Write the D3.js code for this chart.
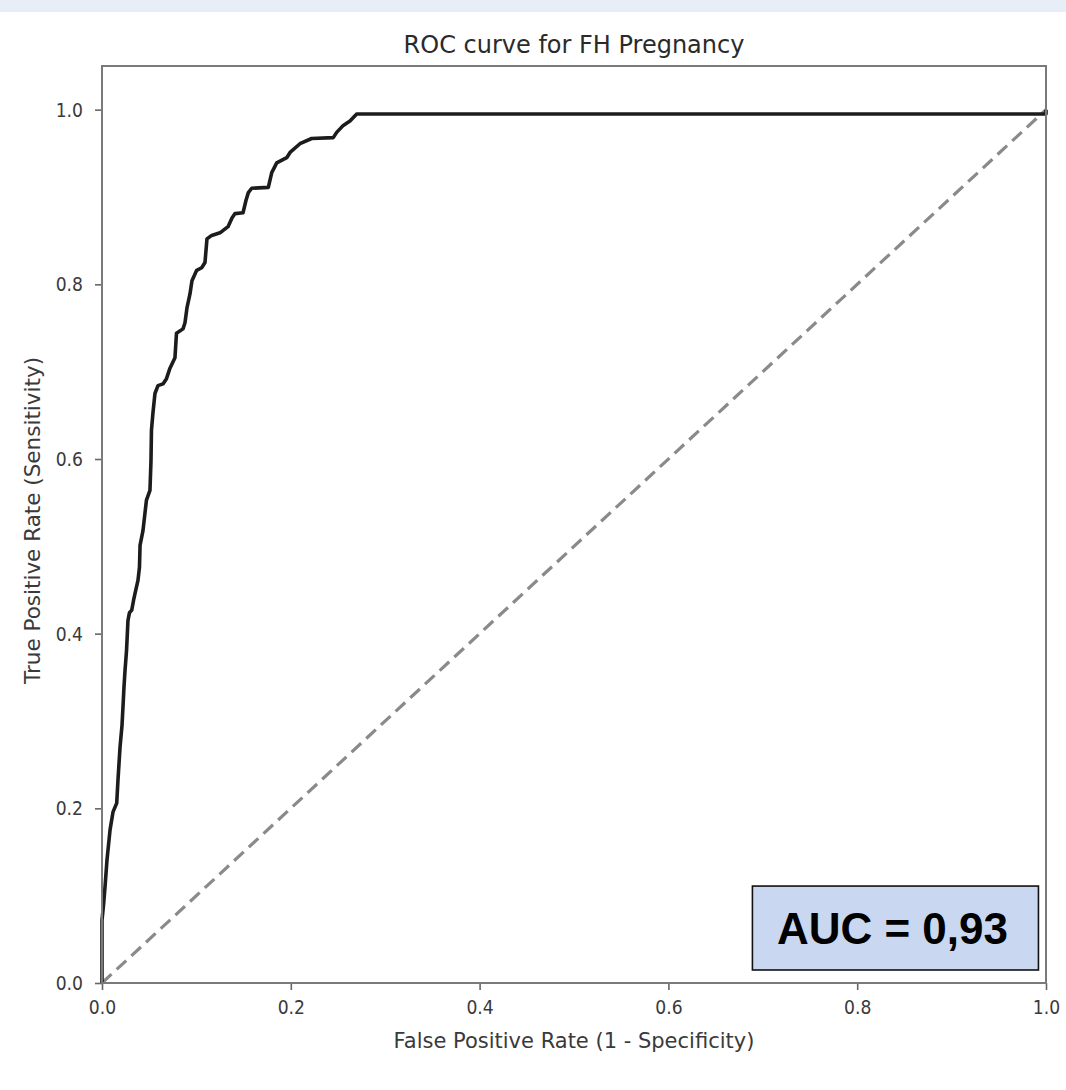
<!DOCTYPE html>
<html>
<head>
<meta charset="utf-8">
<script src="https://cdn.jsdelivr.net/npm/d3@7"></script>
<style>
  html, body { margin: 0; padding: 0; background: #fff; }
  svg { display: block; }
</style>
</head>
<body>
<div id="chart"></div>
<script>
// ---- data ----
const title = "ROC curve for FH Pregnancy";
const xLabel = "False Positive Rate (1 - Specificity)";
const yLabel = "True Positive Rate (Sensitivity)";
const aucLabel = "AUC = 0,93";
const xTicks = [0, 0.2, 0.4, 0.6, 0.8, 1.0];
const yTicks = [0, 0.2, 0.4, 0.6, 0.8, 1.0];

const fpr = [0, 0, 0.0016, 0.0032, 0.0053, 0.0085, 0.0117, 0.0156, 0.0169, 0.0191, 0.0212,
  0.0226, 0.0233, 0.0244, 0.0260, 0.0275, 0.0291, 0.0315, 0.0334, 0.0350, 0.0381,
  0.0397, 0.0403, 0.0434, 0.0471, 0.0508, 0.0519, 0.0524, 0.0540, 0.0561, 0.0593,
  0.0646, 0.0683, 0.0720, 0.0773, 0.0789, 0.0858, 0.0879, 0.0900, 0.0932, 0.0953,
  0.1003, 0.1056, 0.1091, 0.1112, 0.1162, 0.1250, 0.1335, 0.1377, 0.1409, 0.1494,
  0.1525, 0.1550, 0.1586, 0.1762, 0.1798, 0.1851, 0.1957, 0.1992, 0.2097, 0.2221,
  0.2450, 0.2486, 0.2556, 0.2627, 0.2698, 1.0, 1.0];
const tpr = [0, 0.072, 0.089, 0.110, 0.141, 0.175, 0.196, 0.206, 0.232, 0.270, 0.295,
  0.324, 0.339, 0.358, 0.381, 0.415, 0.424, 0.427, 0.438, 0.446, 0.461,
  0.476, 0.501, 0.518, 0.553, 0.564, 0.598, 0.633, 0.653, 0.675, 0.684,
  0.686, 0.692, 0.704, 0.716, 0.744, 0.749, 0.756, 0.773, 0.789, 0.804,
  0.816, 0.819, 0.825, 0.852, 0.856, 0.859, 0.866, 0.876, 0.881, 0.882,
  0.896, 0.905, 0.910, 0.911, 0.928, 0.939, 0.945, 0.951, 0.961, 0.967,
  0.968, 0.974, 0.982, 0.987, 0.995, 0.995, 1.0];
const chanceX = [0, 1];
const chanceY = [0, 1];
// annotation box extent in data units
const aucBoxX = [0.689, 0.992];
const aucBoxY = [0.0149, 0.111];

// ---- layout ----
const W = 1066, H = 1090;
const m = { left: 102, top: 66, right: 20, bottom: 107 };
const iw = W - m.left - m.right;   // 944
const ih = H - m.top - m.bottom;   // 917

const svg = d3.select("#chart").append("svg").attr("width", W).attr("height", H);

// top light band
svg.append("rect").attr("x", 0).attr("y", 0).attr("width", W).attr("height", 12).attr("fill", "#e7eef8");

const x = d3.scaleLinear().domain([0, 1]).range([0, iw]);
const y = d3.scaleLinear().domain([0, 1.05]).range([ih, 0]);

const g = svg.append("g").attr("transform", `translate(${m.left},${m.top})`);

const font = "'DejaVu Sans', sans-serif";
const tickScaleX = 0.86;

// axes
const xAxis = g.append("g").attr("transform", `translate(0,${ih})`)
  .call(d3.axisBottom(x).tickValues(xTicks).tickFormat(d3.format(".1f")).tickSize(7).tickSizeOuter(0).tickPadding(10));
const yAxis = g.append("g")
  .call(d3.axisLeft(y).tickValues(yTicks).tickFormat(d3.format(".1f")).tickSize(7).tickSizeOuter(0).tickPadding(12));
[xAxis, yAxis].forEach(a => {
  a.select(".domain").remove();
  a.selectAll(".tick line").attr("stroke", "#666").attr("stroke-width", 1.6);
  a.selectAll(".tick text").each(function () {
    const t = d3.select(this);
    const tx = +t.attr("x") || 0, ty = +t.attr("y") || 0;
    t.attr("x", 0).attr("y", 0)
      .attr("transform", `translate(${tx},${ty}) scale(${tickScaleX},1)`);
  })
    .attr("fill", "#3a3a3a").style("font-family", font).style("font-size", "20px");
});

// chance diagonal
const pts = d3.zip(chanceX, chanceY);
g.append("path").datum(pts)
  .attr("d", d3.line().x(d => x(d[0])).y(d => y(d[1])))
  .attr("fill", "none").attr("stroke", "#8a8a8a").attr("stroke-width", 3.2)
  .attr("stroke-dasharray", "13,7");

// ROC curve
const roc = d3.zip(fpr, tpr);
g.append("path").datum(roc)
  .attr("d", d3.line().x(d => x(d[0])).y(d => y(d[1])))
  .attr("fill", "none").attr("stroke", "#1c1c1c").attr("stroke-width", 3.6)
  .attr("stroke-linejoin", "round");

// frame
g.append("rect").attr("x", 0).attr("y", 0).attr("width", iw).attr("height", ih)
  .attr("fill", "none").attr("stroke", "#7a7a7a").attr("stroke-width", 2);

// title
svg.append("text").attr("x", m.left + iw / 2).attr("y", 53)
  .attr("text-anchor", "middle").attr("fill", "#2a2a2a")
  .style("font-family", font).style("font-size", "24px").text(title);

// x label
svg.append("text").attr("x", m.left + iw / 2).attr("y", 1048)
  .attr("text-anchor", "middle").attr("fill", "#3a3a3a")
  .style("font-family", font).style("font-size", "21px").text(xLabel);

// y label
svg.append("text").attr("transform", `translate(40,${m.top + ih / 2 - 4}) rotate(-90)`)
  .attr("text-anchor", "middle").attr("fill", "#3a3a3a")
  .style("font-family", font).style("font-size", "21.5px").text(yLabel);

// AUC box
const bx0 = x(aucBoxX[0]), bx1 = x(aucBoxX[1]);
const by0 = y(aucBoxY[1]), by1 = y(aucBoxY[0]);
g.append("rect").attr("x", bx0).attr("y", by0).attr("width", bx1 - bx0).attr("height", by1 - by0)
  .attr("fill", "#c9d8f0").attr("stroke", "#111").attr("stroke-width", 1.6);
g.append("text").attr("x", (bx0 + bx1) / 2 - 3).attr("y", (by0 + by1) / 2 + 16)
  .attr("text-anchor", "middle").attr("fill", "#000")
  .style("font-family", "'Liberation Sans', Arial, sans-serif").style("font-weight", "bold").style("font-size", "44px")
  .text(aucLabel);
</script>
</body>
</html>
